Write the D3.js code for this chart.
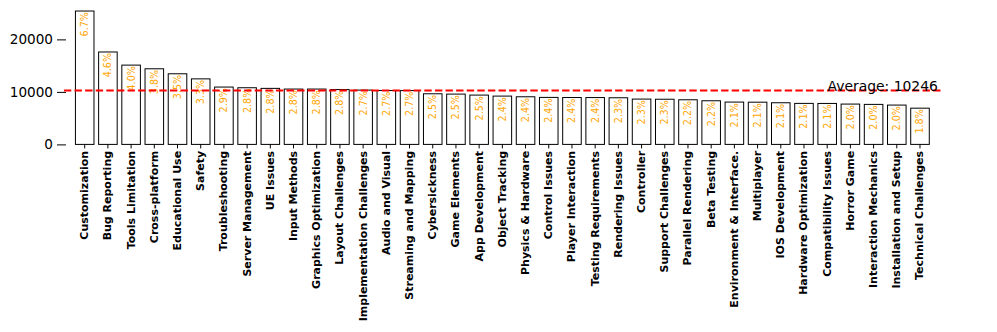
<!DOCTYPE html>
<html>
<head>
<meta charset="utf-8">
<script src="https://cdn.jsdelivr.net/npm/d3@7"></script>
<style>
  html, body { margin: 0; padding: 0; background: #fff; }
  svg { display: block; font-family: "DejaVu Sans", sans-serif; }
</style>
</head>
<body>
<svg id="chart" width="997" height="332"></svg>
<script>
const categories = [
  "Customization", "Bug Reporting", "Tools Limitation", "Cross-platform", "Educational Use",
  "Safety", "Troubleshooting", "Server Management", "UE Issues", "Input Methods",
  "Graphics Optimization", "Layout Challenges", "Implementation Challenges", "Audio and Visual",
  "Streaming and Mapping", "Cybersickness", "Game Elements", "App Development", "Object Tracking",
  "Physics & Hardware", "Control Issues", "Player Interaction", "Testing Requirements",
  "Rendering Issues", "Controller", "Support Challenges", "Parallel Rendering", "Beta Testing",
  "Environment & Interface.", "Multiplayer", "IOS Development", "Hardware Optimization",
  "Compatibility Issues", "Horror Game", "Interaction Mechanics", "Installation and Setup",
  "Technical Challenges"
];
const values = [
  25400, 17600, 15100, 14400, 13450,
  12480, 10920, 10790, 10670, 10540,
  10540, 10440, 10340, 10260,
  10250, 9640, 9580, 9390, 9200,
  9070, 8950, 8930, 8920,
  8880, 8630, 8600, 8500, 8310,
  8060, 8040, 7930, 7810,
  7800, 7680, 7620, 7490,
  6900
];
const yTicks = [0, 10000, 20000];

const svg = d3.select("#chart");
const data = categories.map((c, i) => ({ cat: c, val: values[i] }));
const total = d3.sum(values);
const avg = d3.mean(values);

const x = d3.scaleBand().domain(categories).range([73.1, 931.6]).paddingInner(0.2).paddingOuter(0.1);
const y = d3.scaleLinear().domain([0, 27500]).range([144.4, 0]);

// bars
svg.append("g").selectAll("rect").data(data).join("rect")
  .attr("x", d => x(d.cat))
  .attr("y", d => y(d.val))
  .attr("width", x.bandwidth())
  .attr("height", d => y(0) - y(d.val))
  .attr("fill", "#fff")
  .attr("stroke", "#000")
  .attr("stroke-width", 1);

// percentage labels
svg.append("g").selectAll("text").data(data).join("text")
  .attr("transform", d => `translate(${x(d.cat) + x.bandwidth() / 2},${y(d.val) + 1}) rotate(-90)`)
  .attr("text-anchor", "end")
  .attr("dominant-baseline", "central")
  .attr("fill", "#FFA500")
  .attr("font-size", "9.6px")
  .text(d => (d.val / total * 100).toFixed(1) + "%");

// y axis
const yAxis = d3.axisLeft(y).tickValues(yTicks).tickSize(9).tickPadding(4).tickFormat(d3.format("d"));
const gy = svg.append("g").attr("transform", "translate(66,0)").call(yAxis);
gy.select(".domain").remove();
gy.selectAll("line").attr("stroke", "#000").attr("stroke-width", 1);
gy.selectAll("text").attr("font-size", "13.6px").attr("fill", "#000")
  .attr("font-family", "DejaVu Sans, sans-serif");

// x axis
const xAxis = d3.axisBottom(x).tickSize(4).tickPadding(3);
const gx = svg.append("g").attr("transform", `translate(0,${y(0)})`).call(xAxis);
gx.select(".domain").remove();
gx.selectAll("line").attr("stroke", "#000").attr("stroke-width", 1);
gx.selectAll("text")
  .attr("font-size", "11px").attr("font-weight", "bold").attr("fill", "#000")
  .attr("font-family", "DejaVu Sans, sans-serif")
  .attr("transform", "rotate(-90)")
  .attr("text-anchor", "end")
  .attr("dominant-baseline", "central")
  .attr("x", -6.5)
  .attr("y", 0)
  .attr("dy", null);

// average line
const x0 = x(categories[0]) - x.step() * 0.5 + 0.1;
const x1 = x(categories[categories.length - 1]) + x.step() * 1.3;
svg.append("line")
  .attr("x1", x0).attr("x2", x1)
  .attr("y1", y(avg)).attr("y2", y(avg))
  .attr("stroke", "red").attr("stroke-width", 2)
  .attr("stroke-dasharray", "7.4,3.2");

svg.append("text")
  .attr("x", x1 - 3).attr("y", y(avg))
  .attr("text-anchor", "end")
  .attr("font-size", "13.9px")
  .attr("fill", "#000")
  .text("Average: " + Math.round(avg));
</script>
</body>
</html>
